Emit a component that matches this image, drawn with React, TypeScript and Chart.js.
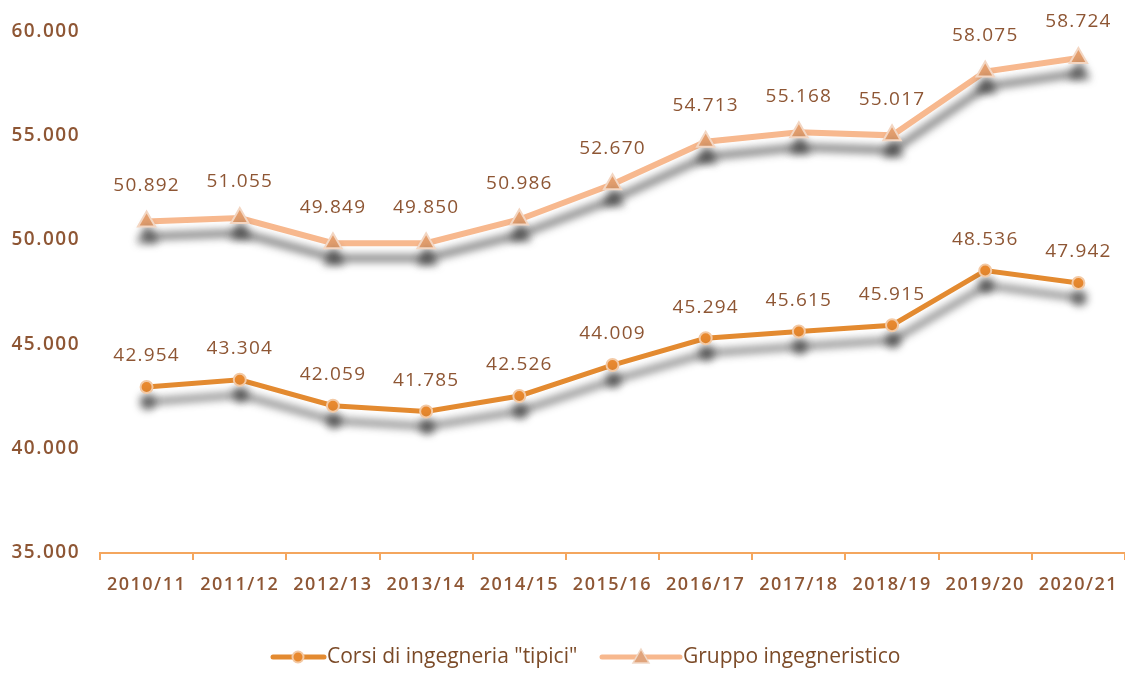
import React, { useEffect, useRef } from "react";
import { Chart, registerables } from "chart.js";

Chart.register(...registerables);

const categories = ["2010/11", "2011/12", "2012/13", "2013/14", "2014/15", "2015/16", "2016/17", "2017/18", "2018/19", "2019/20", "2020/21"];
const tipici = [42954, 43304, 42059, 41785, 42526, 44009, 45294, 45615, 45915, 48536, 47942];
const gruppo = [50892, 51055, 49849, 49850, 50986, 52670, 54713, 55168, 55017, 58075, 58724];
const seriesNames = ['Corsi di ingegneria "tipici"', "Gruppo ingegneristico"];
const yMin = 35000;
const yMax = 60000;
const yStep = 5000;

const TEXT = "#8E5634";
const FONT = "'Open Sans', 'DejaVu Sans', sans-serif";
const CANVAS_W = 1137;

function fmt(v: number): string {
  const s = Math.round(v).toString();
  return s.replace(/\B(?=(\d{3})+(?!\d))/g, ".");
}

const spacingPlugin = {
  id: "spacing",
  beforeLayout(chart: any) {
    (chart.ctx as any).letterSpacing = "1.5px";
  },
  beforeDraw(chart: any) {
    (chart.ctx as any).letterSpacing = "1.5px";
  },
};

const shadowPlugin = {
  id: "shadow",
  beforeDatasetDraw(chart: any) {
    const ctx = chart.ctx;
    ctx.save();
    ctx.shadowColor = "rgba(40,40,40,0.72)";
    ctx.shadowBlur = 8;
    ctx.shadowOffsetX = 1;
    ctx.shadowOffsetY = 15;
  },
  afterDatasetDraw(chart: any) {
    chart.ctx.restore();
  },
};

const labelPlugin = {
  id: "valueLabels",
  afterDatasetsDraw(chart: any) {
    const ctx = chart.ctx;
    ctx.save();
    (ctx as any).letterSpacing = "1.2px";
    ctx.font = `19px ${FONT}`;
    ctx.fillStyle = TEXT;
    ctx.textAlign = "center";
    ctx.textBaseline = "middle";
    chart.data.datasets.forEach((ds: any, i: number) => {
      const meta = chart.getDatasetMeta(i);
      const off = i === 1 ? 36 : 31;
      meta.data.forEach((pt: any, j: number) => {
        ctx.fillText(fmt(ds.data[j]), pt.x, pt.y - off);
      });
    });
    ctx.restore();
  },
};

const legendPlugin = {
  id: "customLegend",
  afterDraw(chart: any) {
    const ctx = chart.ctx;
    ctx.save();
    (ctx as any).letterSpacing = "0px";
    const y = 657;
    ctx.font = `21px ${FONT}`;
    ctx.textBaseline = "middle";
    ctx.textAlign = "left";
    // item 1
    ctx.strokeStyle = "#E38A30";
    ctx.lineWidth = 5;
    ctx.lineCap = "round";
    ctx.beginPath();
    ctx.moveTo(273, y);
    ctx.lineTo(324, y);
    ctx.stroke();
    ctx.beginPath();
    ctx.arc(298, y, 5.5, 0, Math.PI * 2);
    ctx.fillStyle = "#E8892F";
    ctx.fill();
    ctx.strokeStyle = "#F3C9A4";
    ctx.lineWidth = 2;
    ctx.stroke();
    ctx.fillStyle = "#7B4A27";
    ctx.fillText(seriesNames[0], 327, y);
    // item 2
    ctx.strokeStyle = "#F7B88E";
    ctx.lineWidth = 5;
    ctx.beginPath();
    ctx.moveTo(602, y);
    ctx.lineTo(680, y);
    ctx.stroke();
    ctx.beginPath();
    ctx.moveTo(641, y - 8);
    ctx.lineTo(649, y + 6);
    ctx.lineTo(633, y + 6);
    ctx.closePath();
    ctx.fillStyle = "#E0A47C";
    ctx.fill();
    ctx.strokeStyle = "#F1D8C6";
    ctx.lineWidth = 1.5;
    ctx.stroke();
    ctx.fillStyle = "#7B4A27";
    ctx.fillText(seriesNames[1], 683, y);
    ctx.restore();
  },
};

export default function App() {
  const ref = useRef<HTMLCanvasElement | null>(null);
  useEffect(() => {
    if (!ref.current) return;
    const chart = new Chart(ref.current, {
      type: "line",
      data: {
        labels: categories,
        datasets: [
          {
            label: seriesNames[0],
            data: tipici,
            borderColor: "#E38A30",
            borderWidth: 5,
            pointStyle: "circle",
            pointRadius: 6,
            pointBackgroundColor: "#E8892F",
            pointBorderColor: "#F3C9A4",
            pointBorderWidth: 2,
            tension: 0,
          },
          {
            label: seriesNames[1],
            data: gruppo,
            borderColor: "#F7B88E",
            borderWidth: 6,
            pointStyle: "triangle",
            pointRadius: 10,
            pointBackgroundColor: "#E5A06F",
            pointBorderColor: "#F3D6C2",
            pointBorderWidth: 2,
            tension: 0,
          },
        ],
      },
      options: {
        animation: false,
        responsive: false,
        devicePixelRatio: 1,
        layout: { padding: { top: 31, right: 1, left: 0, bottom: 0 } },
        plugins: {
          legend: { display: false },
          tooltip: { enabled: false },
        },
        scales: {
          x: {
            offset: true,
            grid: {
              offset: true,
              drawOnChartArea: false,
              drawTicks: true,
              tickLength: 7,
              color: "#F4A65E",
              lineWidth: 2,
            },
            border: { display: true, color: "#F4A65E", width: 2 },
            ticks: {
              color: TEXT,
              font: { family: FONT, size: 18, weight: "600" },
              padding: 14,
              maxRotation: 0,
              autoSkip: false,
            },
            afterFit(scale: any) {
              scale.height = 135;
              scale.paddingLeft = 0;
              scale.paddingRight = 0;
            },
          },
          y: {
            min: yMin,
            max: yMax,
            grid: { display: false, drawTicks: false },
            border: { display: false },
            ticks: {
              stepSize: yStep,
              color: TEXT,
              font: { family: FONT, size: 19, weight: "600" },
              padding: 20,
              callback: (v: any) => fmt(Number(v)),
            },
            afterFit(scale: any) {
              scale.width = 100;
            },
          },
        },
      },
      plugins: [spacingPlugin, shadowPlugin, labelPlugin, legendPlugin],
    });
    return () => chart.destroy();
  }, []);
  return (
    <div style={{ position: "fixed", left: 0, top: 0, width: 1125, height: 688, background: "#fff", overflow: "hidden" }}>
      <canvas ref={ref} width={CANVAS_W} height={688} style={{ width: CANVAS_W, height: 688, display: "block" }} />
    </div>
  );
}
